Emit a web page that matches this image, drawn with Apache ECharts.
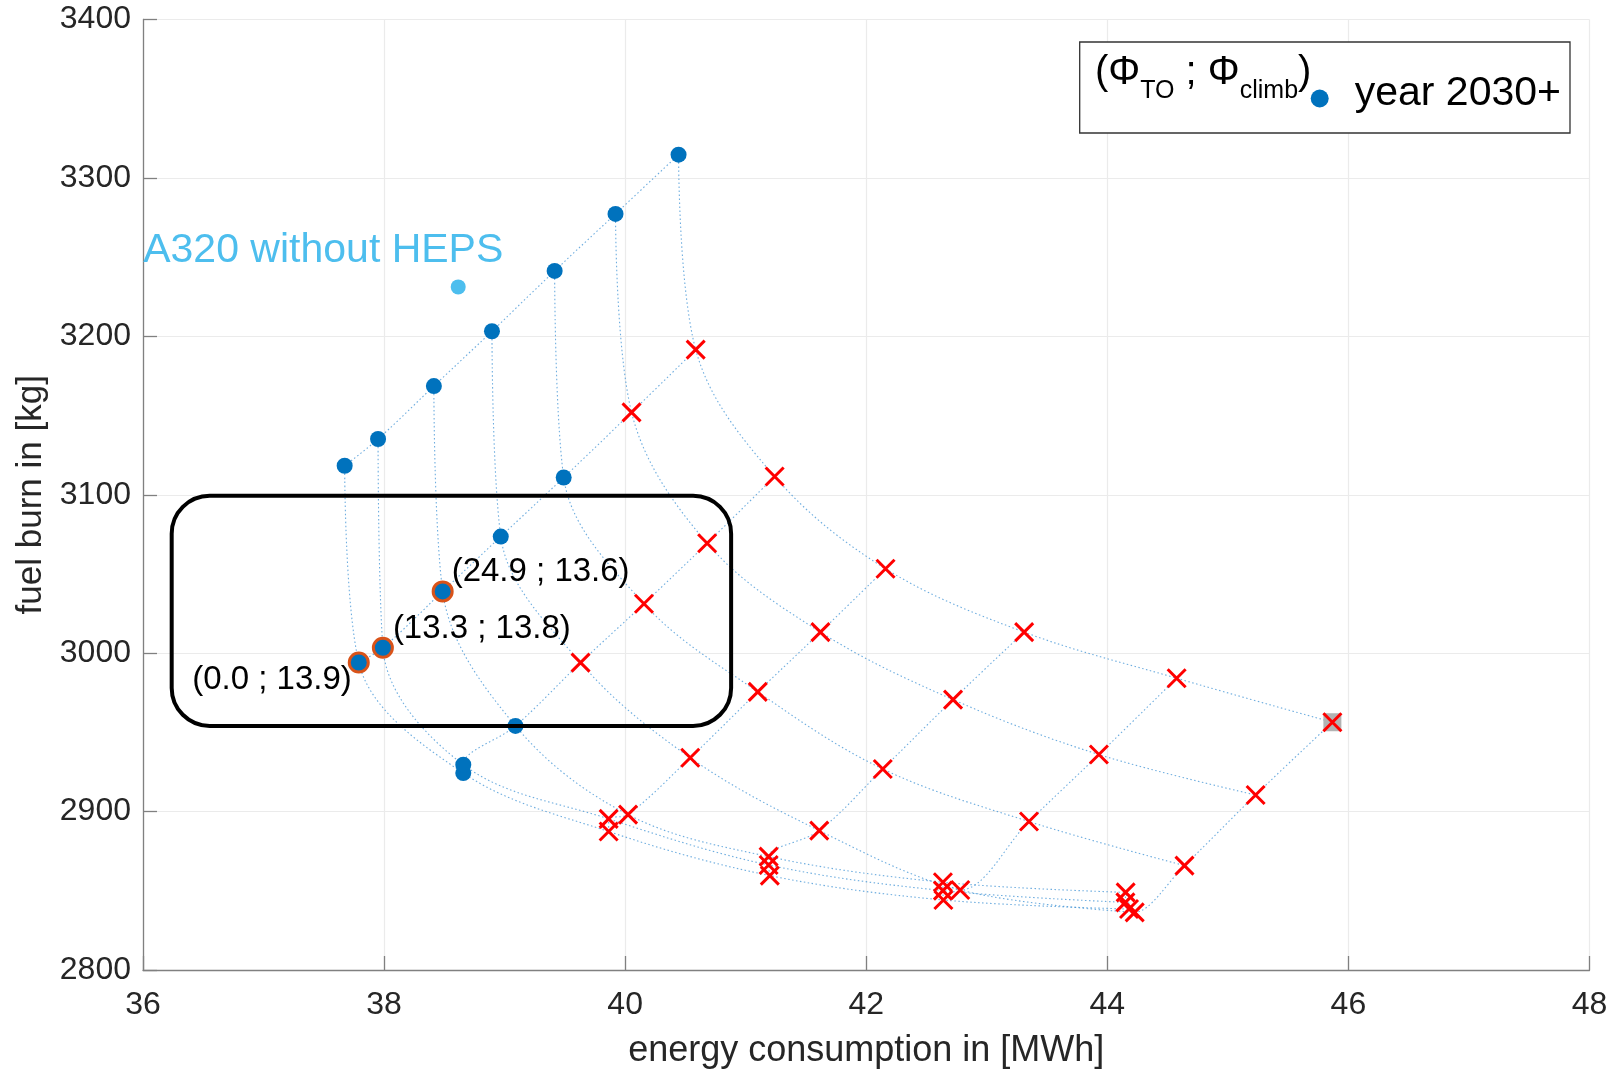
<!DOCTYPE html>
<html><head><meta charset="utf-8">
<script src="https://cdn.jsdelivr.net/npm/echarts@6/dist/echarts.min.js"></script>
<style>html,body{margin:0;padding:0;background:#fff}#c{width:1615px;height:1071px}</style>
</head><body><div id="c"></div>
<script>
// ---- data (one row per Phi_TO curve, one column per Phi_climb step) ----
const energyMWh = [
  [37.673, 37.790, 38.657, 39.863, 41.200, 42.640, 44.180],
  [37.950, 37.990, 38.657, 39.863, 41.190, 42.636, 44.150],
  [38.413, 38.486, 39.090, 40.024, 41.190, 42.636, 44.152],
  [38.895, 38.968, 39.630, 40.540, 41.610, 42.780, 44.227],
  [39.415, 39.490, 40.156, 41.100, 42.137, 43.350, 44.640],
  [39.920, 40.053, 40.680, 41.620, 42.720, 43.930, 45.230],
  [40.443, 40.585, 41.240, 42.160, 43.310, 44.575, 45.867]
];
const fuelKg = [
  [3118.3, 2994.1, 2924.3, 2887.4, 2859.6, 2844.2, 2838.5],
  [3135.2, 3003.4, 2929.6, 2895.4, 2866.3, 2850.1, 2842.7],
  [3168.6, 3039.0, 2954.1, 2898.1, 2871.6, 2855.4, 2849.0],
  [3203.2, 3073.6, 2994.0, 2934.0, 2888.0, 2850.5, 2836.4],
  [3241.3, 3110.9, 3031.2, 2975.6, 2926.9, 2893.7, 2865.9],
  [3277.3, 3152.0, 3069.4, 3013.3, 2970.7, 2936.0, 2910.5],
  [3314.7, 3191.6, 3111.5, 3053.3, 3013.3, 2984.2, 2956.4]
];
const markerKind = [
  ['o','o','o','x','x','x','x'],
  ['o','o','o','x','x','x','x'],
  ['o','o','o','x','x','x','x'],
  ['o','o','x','x','x','x','x'],
  ['o','o','x','x','x','x','x'],
  ['o','x','x','x','x','x','x'],
  ['o','x','x','x','x','x','x']
];
const highlightCurve = [0, 1, 2];
const highlightStep = [1, 1, 1];
const highlightText = ['(0.0 ; 13.9)', '(13.3 ; 13.8)', '(24.9 ; 13.6)'];
const grayCurve = 6, grayStep = 6;
const a320Energy = 38.615, a320Fuel = 3231.2;
const a320Text = 'A320 without HEPS';
const xTicksRange = [36, 48, 2];
const yTicksRange = [2800, 3400, 100];
const boxEnergy = [36.238, 40.879];
const boxFuel = [2954.1, 3099.4];
const seriesName = 'year 2030+';
const xName = 'energy consumption in [MWh]';
const yName = 'fuel burn in [kg]';

// ---- build ----
const FONT = '"Liberation Sans", Arial, Helvetica, sans-serif';
const lineStyle = {color: '#3d92d4', width: 1.1, type: [1.5, 2.5], opacity: 0.75};
const series = [];
for (let i = 0; i < energyMWh.length; i++) {
  series.push({type: 'line', smooth: 0.35, showSymbol: false, silent: true, z: 1,
    lineStyle: lineStyle, data: energyMWh[i].map((x, j) => [x, fuelKg[i][j]])});
}
for (let j = 0; j < energyMWh[0].length; j++) {
  series.push({type: 'line', smooth: 0.35, showSymbol: false, silent: true, z: 1,
    lineStyle: lineStyle, data: energyMWh.map((row, i) => [row[j], fuelKg[i][j]])});
}
const dots = [], crosses = [];
energyMWh.forEach((row, i) => row.forEach((x, j) => {
  (markerKind[i][j] === 'o' ? dots : crosses).push([x, fuelKg[i][j]]);
}));
series.push({type: 'scatter', name: 'gray', z: 2, symbol: 'rect', symbolSize: 18,
  itemStyle: {color: '#b3b3b3', opacity: 1}, silent: true,
  data: [[energyMWh[grayCurve][grayStep], fuelKg[grayCurve][grayStep]]]});
series.push({type: 'scatter', name: 'cross', z: 3, symbol: 'path://M0,0L10,10M10,0L0,10',
  symbolSize: 18, itemStyle: {color: 'none', borderColor: '#ff0000', borderWidth: 3, opacity: 1}, data: crosses});
series.push({type: 'scatter', name: seriesName, z: 4, symbol: 'circle', symbolSize: 16,
  itemStyle: {color: '#0072BD', opacity: 1}, data: dots});
const hlOffsets = [[-7, 17, 'right'], [10, -19, 'left'], [9, -19, 'left']];
series.push({type: 'scatter', name: 'hl', z: 5, symbol: 'circle', symbolSize: 19,
  itemStyle: {color: '#0072BD', borderColor: '#D95319', borderWidth: 3, opacity: 1},
  data: highlightCurve.map((c, k) => ({
    value: [energyMWh[c][highlightStep[k]], fuelKg[c][highlightStep[k]]],
    label: {show: true, formatter: highlightText[k], position: 'inside', align: hlOffsets[k][2],
      verticalAlign: 'middle', offset: [hlOffsets[k][0], hlOffsets[k][1]],
      color: '#000', fontSize: 33, fontFamily: FONT}
  }))});
series.push({type: 'scatter', name: 'a320', z: 5, symbol: 'circle', symbolSize: 15,
  itemStyle: {color: '#4DBEEE', opacity: 1},
  data: [{value: [a320Energy, a320Fuel], label: {show: true, formatter: a320Text, position: 'inside',
    align: 'left', verticalAlign: 'middle', offset: [-315, -36], color: '#4DBEEE', fontSize: 41, fontFamily: FONT}}]});

const chart = echarts.init(document.getElementById('c'), null, {renderer: 'canvas'});
const axisCommon = {
  axisLine: {show: true, lineStyle: {color: '#808080', width: 1.3}},
  axisTick: {show: true, inside: true, length: 14, lineStyle: {color: '#808080', width: 1.3}},
  splitLine: {show: true, lineStyle: {color: '#ebebeb', width: 1.2}},
  axisLabel: {color: '#262626', fontSize: 32, fontFamily: FONT, formatter: v => String(v)},
  nameTextStyle: {color: '#262626', fontSize: 36, fontFamily: FONT},
  nameLocation: 'middle'
};
chart.setOption({
  animation: false,
  backgroundColor: '#fff',
  grid: {left: 143, right: 25.5, top: 19.5, bottom: 101, containLabel: false, outerBoundsMode: 'none'},
  xAxis: Object.assign({type: 'value', min: xTicksRange[0], max: xTicksRange[1], interval: xTicksRange[2],
    name: xName, nameGap: 63}, axisCommon, {axisLabel: Object.assign({}, axisCommon.axisLabel, {margin: 19})}),
  yAxis: Object.assign({type: 'value', min: yTicksRange[0], max: yTicksRange[1], interval: yTicksRange[2],
    name: yName, nameGap: 84}, axisCommon,
    {axisLabel: Object.assign({}, axisCommon.axisLabel, {margin: 12}),
     nameTextStyle: Object.assign({}, axisCommon.nameTextStyle, {fontSize: 35})}),
  legend: {data: [seriesName], right: 45, top: 42, orient: 'horizontal',
    icon: 'circle', itemWidth: 18, itemHeight: 18, itemGap: 10,
    padding: [31, 9, 14, 231], borderColor: '#333', borderWidth: 1.3, backgroundColor: '#fff',
    formatter: name => '{g|}{t|' + name + '}',
    textStyle: {color: '#000', fontSize: 41, fontFamily: FONT,
      rich: {g: {width: 21}, t: {fontSize: 41, color: '#000', fontFamily: FONT, padding: [0, 0, 10, 0]}}}},
  title: {left: 1090, top: 36, text: '{m|(Φ}{s|TO}{m| ; Φ}{s|climb}{m|)}',
    textStyle: {fontWeight: 'normal', rich: {
      m: {fontSize: 40, color: '#000', fontFamily: FONT, fontWeight: 'normal'},
      s: {fontSize: 25, color: '#000', fontFamily: FONT, fontWeight: 'normal', padding: [38, 0, 0, 0]}
    }}},
  series: series
});
const p1 = chart.convertToPixel({gridIndex: 0}, [boxEnergy[0], boxFuel[1]]);
const p2 = chart.convertToPixel({gridIndex: 0}, [boxEnergy[1], boxFuel[0]]);
chart.setOption({graphic: [{type: 'rect', z: 10, silent: true,
  shape: {x: p1[0], y: p1[1], width: p2[0] - p1[0], height: p2[1] - p1[1], r: 38},
  style: {fill: 'none', stroke: '#000', lineWidth: 4}}]});
</script></body></html>
